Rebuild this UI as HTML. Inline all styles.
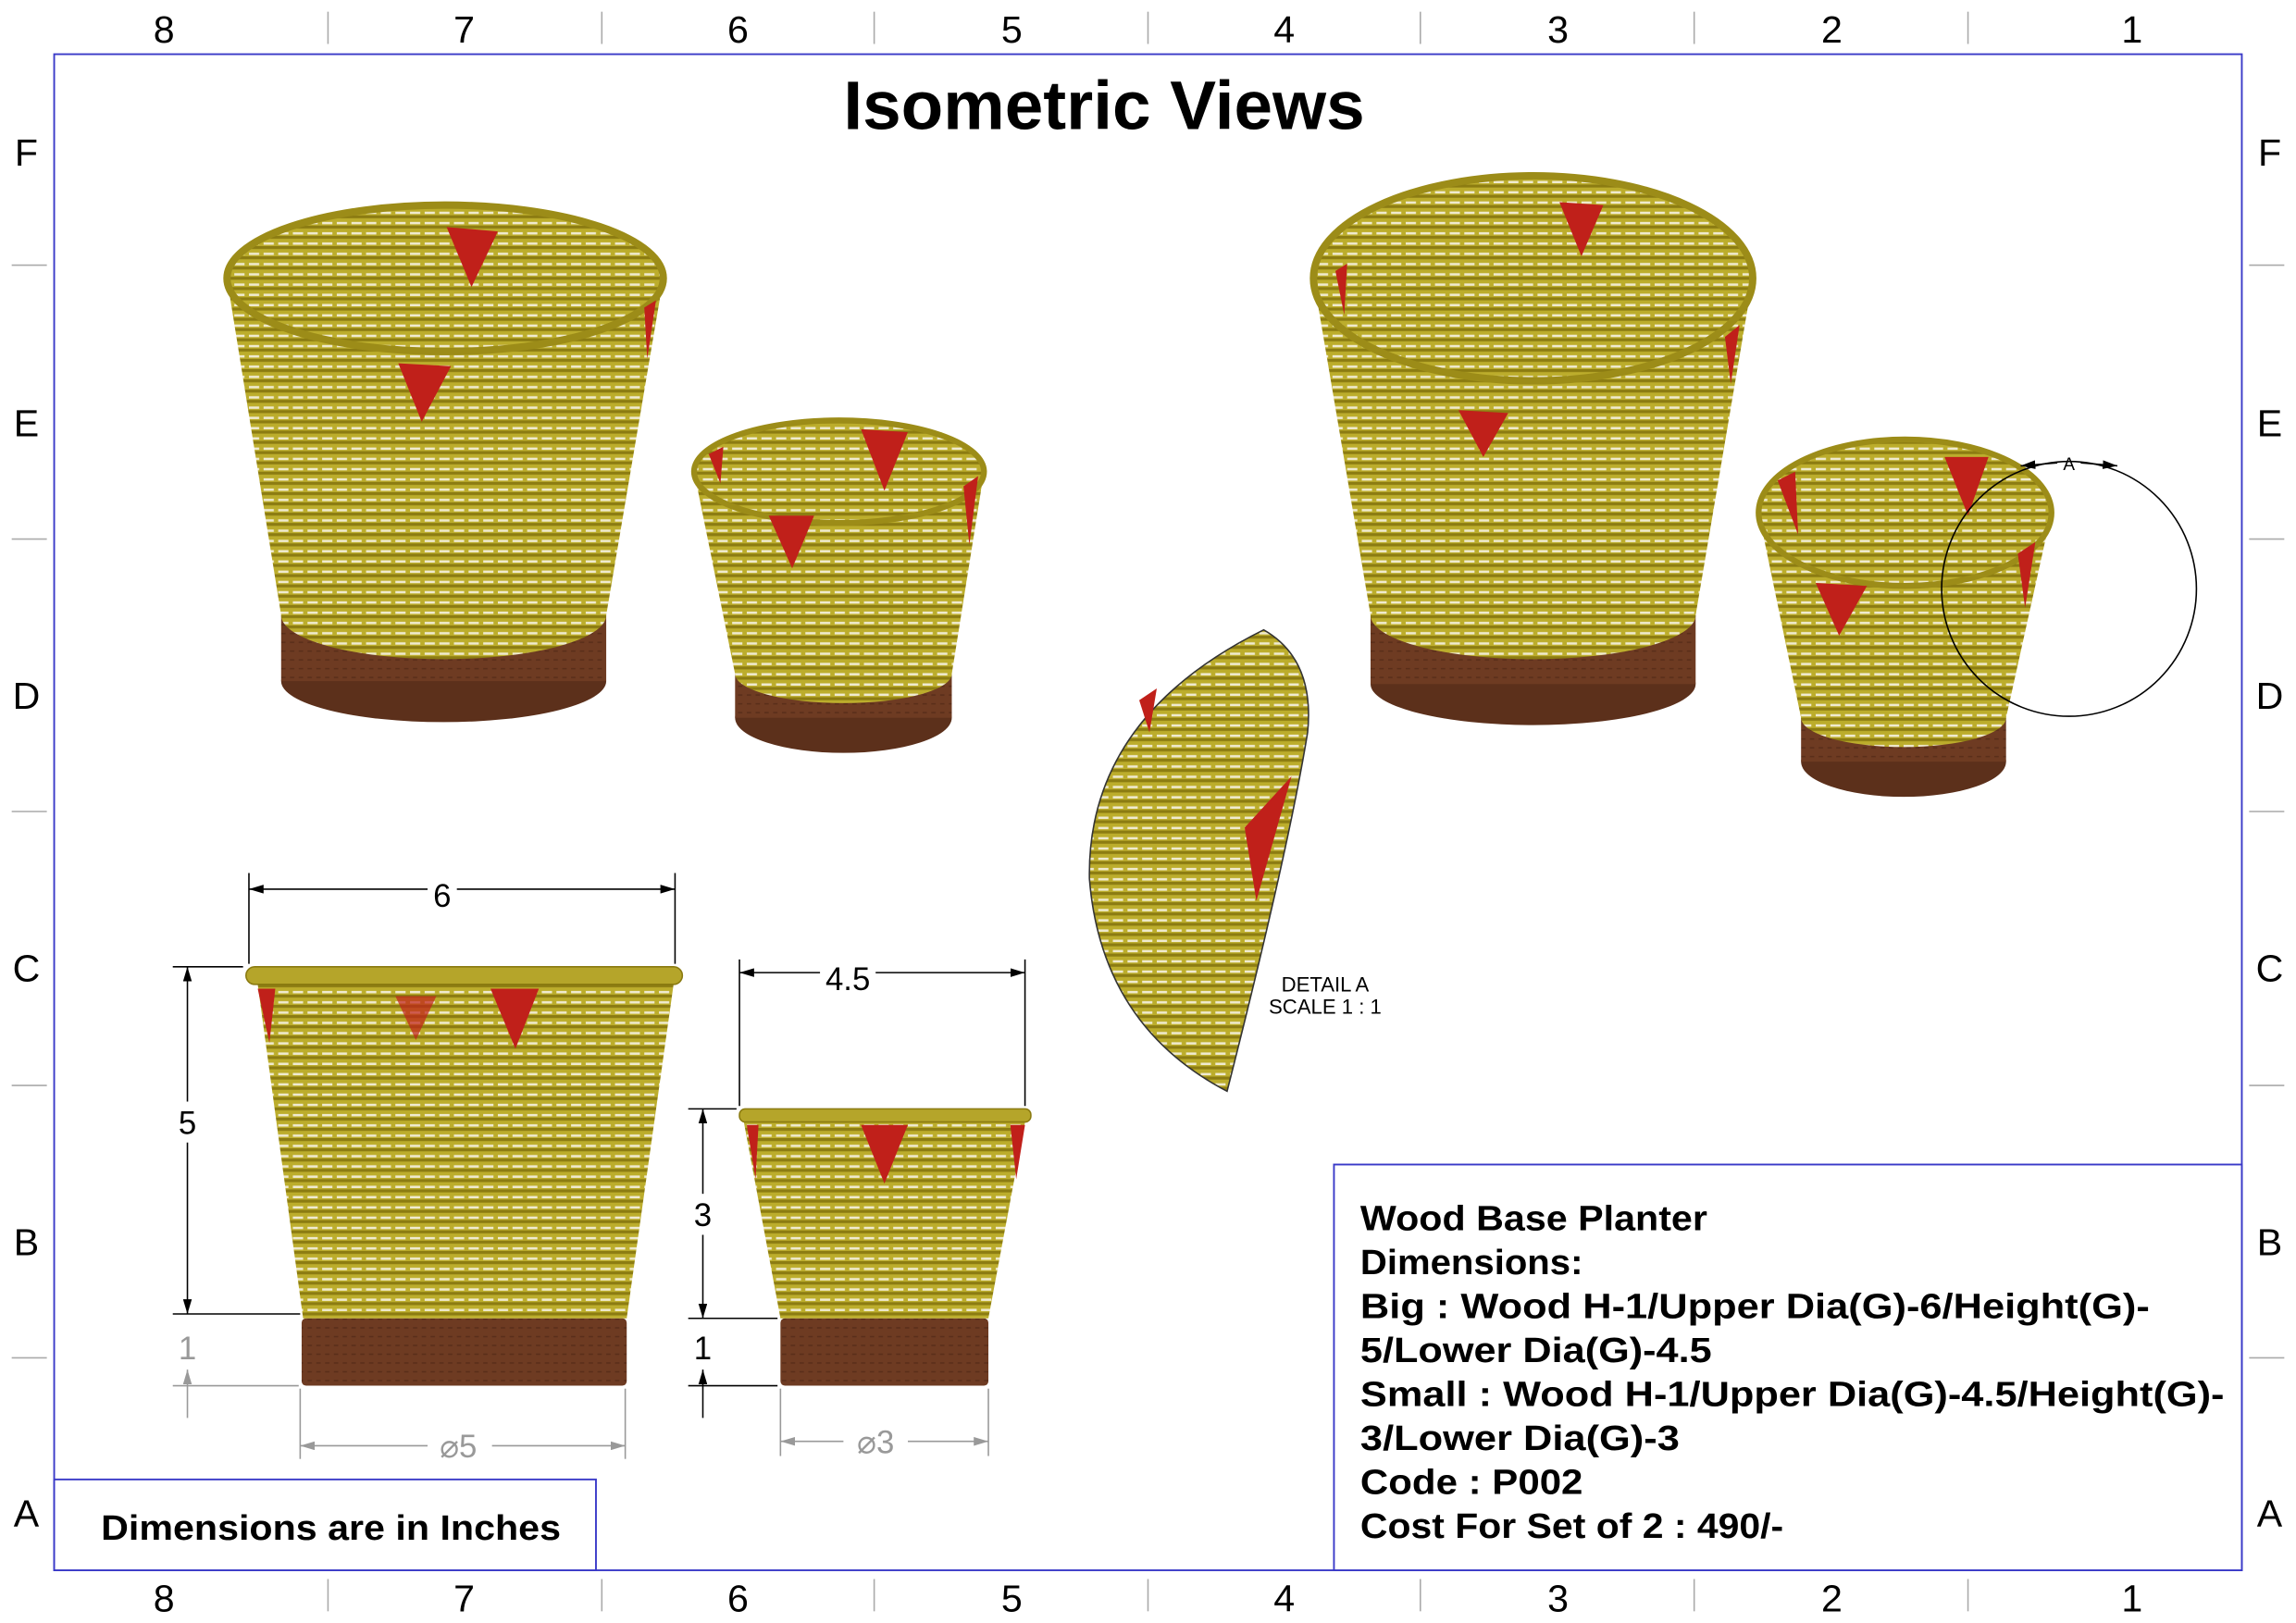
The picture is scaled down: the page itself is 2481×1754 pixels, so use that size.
<!DOCTYPE html>
<html><head><meta charset="utf-8"><style>
html,body{margin:0;padding:0;background:#fff;}
svg{display:block;}
text{font-family:"Liberation Sans","DejaVu Sans",sans-serif;}
</style></head><body>
<svg width="2481" height="1754" viewBox="0 0 1568 1108" preserveAspectRatio="none" xmlns="http://www.w3.org/2000/svg">
<defs>
<pattern id="wv" width="10" height="7" patternUnits="userSpaceOnUse">
<rect width="10" height="7" fill="#bcad2c"/>
<rect y="0" width="10" height="2" fill="#8c7c12"/>
<rect y="4.5" width="7" height="1.6" fill="#efeacf"/>
</pattern>
<pattern id="wd" width="6" height="6" patternUnits="userSpaceOnUse">
<rect width="6" height="6" fill="#6e3b22"/>
<rect width="3" height="1" fill="#5a2e1a"/>
</pattern>
<marker id="ar" markerWidth="10" markerHeight="6" refX="10" refY="3" orient="auto-start-reverse" markerUnits="userSpaceOnUse"><path d="M0,0 L10,3 L0,6 Z" fill="#000"/></marker>
<marker id="ag" markerWidth="10" markerHeight="6" refX="10" refY="3" orient="auto-start-reverse" markerUnits="userSpaceOnUse"><path d="M0,0 L10,3 L0,6 Z" fill="#999"/></marker>
</defs>

<rect x="37" y="37" width="1494" height="1035" fill="none" stroke="#3a3ac8" stroke-width="1.2"/>
<g stroke="#aaa" stroke-width="1">
<line x1="224" y1="8" x2="224" y2="30"/><line x1="411" y1="8" x2="411" y2="30"/><line x1="597" y1="8" x2="597" y2="30"/><line x1="784" y1="8" x2="784" y2="30"/><line x1="970" y1="8" x2="970" y2="30"/><line x1="1157" y1="8" x2="1157" y2="30"/><line x1="1344" y1="8" x2="1344" y2="30"/>
<line x1="224" y1="1078" x2="224" y2="1100"/><line x1="411" y1="1078" x2="411" y2="1100"/><line x1="597" y1="1078" x2="597" y2="1100"/><line x1="784" y1="1078" x2="784" y2="1100"/><line x1="970" y1="1078" x2="970" y2="1100"/><line x1="1157" y1="1078" x2="1157" y2="1100"/><line x1="1344" y1="1078" x2="1344" y2="1100"/>
<line x1="8" y1="181" x2="32" y2="181"/><line x1="8" y1="368" x2="32" y2="368"/><line x1="8" y1="554" x2="32" y2="554"/><line x1="8" y1="741" x2="32" y2="741"/><line x1="8" y1="927" x2="32" y2="927"/>
<line x1="1536" y1="181" x2="1560" y2="181"/><line x1="1536" y1="368" x2="1560" y2="368"/><line x1="1536" y1="554" x2="1560" y2="554"/><line x1="1536" y1="741" x2="1560" y2="741"/><line x1="1536" y1="927" x2="1560" y2="927"/>
</g>
<g font-size="26" text-anchor="middle" fill="#000">
<text x="112" y="29">8</text><text x="317" y="29">7</text><text x="504" y="29">6</text><text x="691" y="29">5</text><text x="877" y="29">4</text><text x="1064" y="29">3</text><text x="1251" y="29">2</text><text x="1456" y="29">1</text>
<text x="112" y="1100">8</text><text x="317" y="1100">7</text><text x="504" y="1100">6</text><text x="691" y="1100">5</text><text x="877" y="1100">4</text><text x="1064" y="1100">3</text><text x="1251" y="1100">2</text><text x="1456" y="1100">1</text>
<text x="18" y="113">F</text><text x="18" y="298">E</text><text x="18" y="484">D</text><text x="18" y="670">C</text><text x="18" y="857">B</text><text x="18" y="1042">A</text>
<text x="1550" y="113">F</text><text x="1550" y="298">E</text><text x="1550" y="484">D</text><text x="1550" y="670">C</text><text x="1550" y="857">B</text><text x="1550" y="1042">A</text>
</g>

<text x="754" y="88" font-size="47" font-weight="bold" text-anchor="middle" textLength="356" lengthAdjust="spacingAndGlyphs">Isometric Views</text>

<!-- Big iso left -->
<ellipse cx="303" cy="465" rx="111" ry="28" fill="#5c301b"/>
<rect x="192" y="420" width="222" height="45" fill="url(#wd)"/>
<path d="M155,190 L453,190 L414,420 A111,30 0 0 1 192,420 Z" fill="url(#wv)"/>
<ellipse cx="304" cy="190" rx="149" ry="50" fill="url(#wv)" stroke="#9c8c18" stroke-width="5"/>
<path d="M272,248 L308,250 L288,288 Z" fill="#c0201a"/><path d="M305,155 L340,158 L322,196 Z" fill="#c0201a"/>
<path d="M440,210 L448,205 L442,245 Z" fill="#c0201a"/>

<!-- Small iso left -->
<ellipse cx="576" cy="490" rx="74" ry="24" fill="#5c301b"/>
<rect x="502" y="460" width="148" height="30" fill="url(#wd)"/>
<path d="M474,322 L672,322 L650,460 A74,20 0 0 1 502,460 Z" fill="url(#wv)"/>
<ellipse cx="573" cy="322" rx="99" ry="35" fill="url(#wv)" stroke="#9c8c18" stroke-width="4"/>
<path d="M525,352 L556,352 L541,388 Z" fill="#c0201a"/><path d="M588,293 L620,295 L604,335 Z" fill="#c0201a"/>
<path d="M484,310 L494,305 L492,330 Z" fill="#c0201a"/><path d="M658,332 L668,325 L662,372 Z" fill="#c0201a"/>

<!-- Big iso right -->
<ellipse cx="1047" cy="467" rx="111" ry="28" fill="#5c301b"/>
<rect x="936" y="420" width="222" height="47" fill="url(#wd)"/>
<path d="M897,190 L1197,190 L1158,420 A111,30 0 0 1 936,420 Z" fill="url(#wv)"/>
<ellipse cx="1047" cy="190" rx="150" ry="70" fill="url(#wv)" stroke="#9c8c18" stroke-width="5"/>
<path d="M996,280 L1030,282 L1013,312 Z" fill="#c0201a"/><path d="M1065,138 L1095,140 L1080,175 Z" fill="#c0201a"/>
<path d="M912,185 L920,180 L918,215 Z" fill="#c0201a"/><path d="M1178,230 L1188,222 L1182,262 Z" fill="#c0201a"/>

<!-- Small iso right -->
<ellipse cx="1300" cy="520" rx="70" ry="24" fill="#5c301b"/>
<rect x="1230" y="490" width="140" height="30" fill="url(#wd)"/>
<path d="M1201,350 L1401,350 L1370,490 A70,20 0 0 1 1230,490 Z" fill="url(#wv)"/>
<ellipse cx="1301" cy="350" rx="100" ry="50" fill="url(#wv)" stroke="#9c8c18" stroke-width="4"/>
<path d="M1240,398 L1275,400 L1256,434 Z" fill="#c0201a"/><path d="M1328,312 L1358,312 L1344,352 Z" fill="#c0201a"/>
<path d="M1214,328 L1226,322 L1228,365 Z" fill="#c0201a"/><path d="M1378,378 L1390,370 L1383,415 Z" fill="#c0201a"/>
<circle cx="1413" cy="402" r="87" fill="none" stroke="#000" stroke-width="1"/>
<text x="1413" y="321" font-size="12" text-anchor="middle">A</text>
<line x1="1380" y1="318" x2="1405" y2="316" stroke="#000" marker-start="url(#ar)"/>
<line x1="1421" y1="316" x2="1446" y2="318" stroke="#000" marker-end="url(#ar)"/>

<!-- Detail A -->
<path d="M863,430 Q742,490 744,600 Q752,700 838,745 Q880,580 893,500 Q898,450 863,430 Z" fill="url(#wv)" stroke="#333" stroke-width="1"/>
<path d="M850,565 L882,530 L858,615 Z" fill="#c0201a"/>
<path d="M778,478 L790,470 L785,500 Z" fill="#c0201a"/>
<text x="905" y="677" font-size="14" text-anchor="middle">DETAIL A</text>
<text x="905" y="692" font-size="14" text-anchor="middle">SCALE 1 : 1</text>

<!-- Big front -->
<rect x="206" y="900" width="222" height="46" rx="3" fill="url(#wd)"/>
<path d="M176,672 L460,672 L428,900 L207,900 Z" fill="url(#wv)"/>
<rect x="168" y="660" width="298" height="12" rx="6" fill="#b5a52a" stroke="#8a7a10"/>
<path d="M176,675 L188,675 L184,712 Z" fill="#c0201a"/><path d="M335,675 L368,675 L352,716 Z" fill="#c0201a"/><path d="M270,680 L298,680 L284,710 Z" fill="#c0201a" opacity="0.7"/>
<g stroke="#000" stroke-width="1" fill="none">
<line x1="170" y1="596" x2="170" y2="658"/><line x1="461" y1="596" x2="461" y2="658"/>
<line x1="170" y1="607" x2="292" y2="607" marker-start="url(#ar)"/><line x1="312" y1="607" x2="461" y2="607" marker-end="url(#ar)"/>
<line x1="118" y1="660" x2="166" y2="660"/><line x1="118" y1="897" x2="205" y2="897"/>
<line x1="128" y1="660" x2="128" y2="752" marker-start="url(#ar)"/><line x1="128" y1="780" x2="128" y2="897" marker-end="url(#ar)"/>
</g>
<g stroke="#999" stroke-width="1" fill="none">
<line x1="118" y1="946" x2="204" y2="946"/>
<line x1="128" y1="935" x2="128" y2="968" marker-start="url(#ag)"/>
<line x1="205" y1="948" x2="205" y2="996"/><line x1="427" y1="948" x2="427" y2="996"/>
<line x1="205" y1="987" x2="292" y2="987" marker-start="url(#ag)"/><line x1="336" y1="987" x2="427" y2="987" marker-end="url(#ag)"/>
</g>
<text x="302" y="619" font-size="22" text-anchor="middle">6</text>
<text x="128" y="774" font-size="22" text-anchor="middle">5</text>
<text x="128" y="928" font-size="22" text-anchor="middle" fill="#999">1</text>
<text x="313" y="995" font-size="22" text-anchor="middle" fill="#999">⌀5</text>

<!-- Small front -->
<rect x="533" y="900" width="142" height="46" rx="3" fill="url(#wd)"/>
<path d="M508,766 L700,766 L675,900 L533,900 Z" fill="url(#wv)"/>
<rect x="505" y="757" width="199" height="9" rx="4" fill="#b5a52a" stroke="#8a7a10"/>
<path d="M588,768 L620,768 L604,808 Z" fill="#c0201a"/><path d="M510,768 L518,768 L516,805 Z" fill="#c0201a"/><path d="M690,768 L700,768 L694,805 Z" fill="#c0201a"/>
<g stroke="#000" stroke-width="1" fill="none">
<line x1="505" y1="655" x2="505" y2="755"/><line x1="700" y1="655" x2="700" y2="755"/>
<line x1="505" y1="664" x2="560" y2="664" marker-start="url(#ar)"/><line x1="598" y1="664" x2="700" y2="664" marker-end="url(#ar)"/>
<line x1="470" y1="757" x2="503" y2="757"/><line x1="470" y1="900" x2="531" y2="900"/><line x1="470" y1="946" x2="531" y2="946"/>
<line x1="480" y1="757" x2="480" y2="815" marker-start="url(#ar)"/><line x1="480" y1="843" x2="480" y2="900" marker-end="url(#ar)"/>
<line x1="480" y1="935" x2="480" y2="968" marker-start="url(#ar)"/>
</g>
<g stroke="#999" stroke-width="1" fill="none">
<line x1="533" y1="948" x2="533" y2="994"/><line x1="675" y1="948" x2="675" y2="994"/>
<line x1="533" y1="984" x2="576" y2="984" marker-start="url(#ag)"/><line x1="620" y1="984" x2="675" y2="984" marker-end="url(#ag)"/>
</g>
<text x="579" y="676" font-size="22" text-anchor="middle">4.5</text>
<text x="480" y="837" font-size="22" text-anchor="middle">3</text>
<text x="480" y="928" font-size="22" text-anchor="middle">1</text>
<text x="598" y="992" font-size="22" text-anchor="middle" fill="#999">⌀3</text>

<!-- Title block -->
<rect x="911" y="795" width="620" height="277" fill="#fff" stroke="#3a3ac8" stroke-width="1.2"/>
<g font-size="24" font-weight="bold">
<text x="929" y="840" textLength="237" lengthAdjust="spacingAndGlyphs">Wood Base Planter</text>
<text x="929" y="870" textLength="152" lengthAdjust="spacingAndGlyphs">Dimensions:</text>
<text x="929" y="900" textLength="539" lengthAdjust="spacingAndGlyphs">Big : Wood H-1/Upper Dia(G)-6/Height(G)-</text>
<text x="929" y="930" textLength="240" lengthAdjust="spacingAndGlyphs">5/Lower Dia(G)-4.5</text>
<text x="929" y="960" textLength="590" lengthAdjust="spacingAndGlyphs">Small : Wood H-1/Upper Dia(G)-4.5/Height(G)-</text>
<text x="929" y="990" textLength="218" lengthAdjust="spacingAndGlyphs">3/Lower Dia(G)-3</text>
<text x="929" y="1020" textLength="152" lengthAdjust="spacingAndGlyphs">Code : P002</text>
<text x="929" y="1050" textLength="289" lengthAdjust="spacingAndGlyphs">Cost For Set of 2 : 490/-</text>
</g>
<rect x="37" y="1010" width="370" height="62" fill="#fff" stroke="#3a3ac8" stroke-width="1.2"/>
<text x="226" y="1051" font-size="24" font-weight="bold" text-anchor="middle" textLength="314" lengthAdjust="spacingAndGlyphs">Dimensions are in Inches</text>
</svg>
</body></html>
